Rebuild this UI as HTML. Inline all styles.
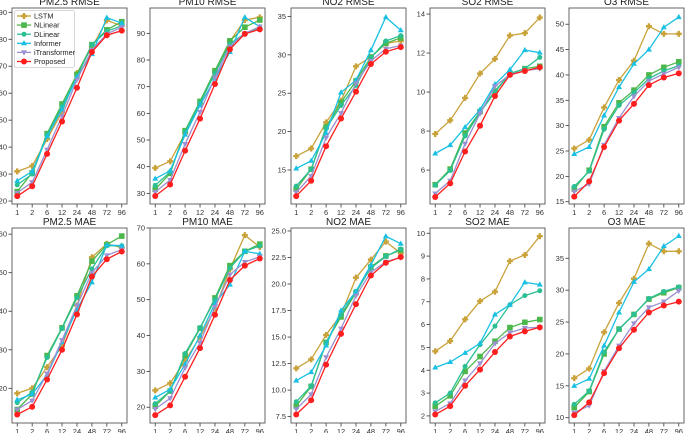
<!DOCTYPE html>
<html><head><meta charset="utf-8">
<style>
html,body{margin:0;padding:0;background:#fff;}
svg{display:block;font-family:"Liberation Sans","DejaVu Sans",sans-serif;}
</style></head>
<body>
<svg id="fig" width="685" height="433" viewBox="0 0 685 433" xmlns="http://www.w3.org/2000/svg"></svg>
<script>
const horizons = ["1","2","6","12","24","48","72","96"];
const seriesNames = ["LSTM","NLinear","DLinear","Informer","iTransformer","Proposed"];

const pm25Rmse = [
 [31,33,43,53,67.5,77,87,85],
 [23.5,30.5,45,56,67,78,83.5,86.5],
 [26,30,44.5,55,66,78,83,85],
 [27.5,31,44,54,66,74.5,88,86],
 [23,27,39,51.5,65,76,82,84.5],
 [21.8,25.5,37.5,49.5,62,75.3,81.5,83.2]];
const pm10Rmse = [
 [39.5,42,52.5,63.5,75.5,87,95,96],
 [31.5,37.5,53.5,64.5,76,87.2,92.3,95],
 [33,38,53,64,75,86,90,92],
 [35.5,38.5,52,63,73,83,96,92.5],
 [30.5,35,48.5,60.5,73.5,85,90,92.5],
 [29,33.3,46,58,71,84,89.8,91.5]];
const no2Rmse = [
 [16.8,17.8,21.2,24,28.5,29.7,31.5,31.8],
 [12.5,15.1,20.6,23.8,26.6,29.7,31.5,32.2],
 [12.9,15.1,20.4,23.4,26,29.6,31.8,32.5],
 [15.2,16.2,19.8,25.1,26.7,30.6,34.9,33.2],
 [12.1,14.2,19.2,22.4,26.3,29.2,30.8,31.2],
 [11.6,13.6,18.1,21.7,25.2,28.8,30.4,31.0]];
const so2Rmse = [
 [7.85,8.55,9.7,10.95,11.7,12.9,13.02,13.82],
 [5.25,6.05,7.9,9.0,10.05,10.95,11.2,11.32],
 [5.22,5.98,7.75,8.95,10.0,10.95,11.2,11.78],
 [6.85,7.28,8.2,9.1,10.4,11.15,12.15,12.02],
 [4.8,5.45,7.35,8.9,10.3,10.9,11.1,11.2],
 [4.62,5.32,6.95,8.27,9.8,10.88,11.08,11.27]];
const o3Rmse = [
 [25.5,27.2,33.6,39,42.8,49.6,48.1,48.1],
 [17.5,21.2,29.8,34.5,37,40,41.5,42.6],
 [18,21,29.3,34,36.5,39.3,40.8,41.8],
 [24.4,25.8,32,37.6,42.2,45,49.4,51.4],
 [17,18.5,26.2,31.5,35.8,38.8,40.2,41.5],
 [16,19,25.8,31,34.3,38,39.5,40.3]];
const pm25Mae = [
 [18.7,20,25.5,31,41.5,54,57.5,56.5],
 [14.5,18.5,28.5,35.7,44,53,57.3,59.5],
 [16.3,19,28,35.5,43.5,51,57,57],
 [17,18.5,23.5,32,40.5,47.5,57.2,57],
 [14.5,16.8,23.8,32.5,41.5,50,54.5,56],
 [13.2,15.2,22.3,30,39.2,49,53.5,55.5]];
const pm10Mae = [
 [24.7,26.7,33,39.5,47.5,58.5,68,64.7],
 [20.3,24.5,34.5,42,50.5,59.5,63.5,65.5],
 [21,24.5,35,42.2,50,58.8,63.5,65],
 [22.7,25,32,40,49,54.2,63.5,62.8],
 [19.5,22.5,31,38,48,57,60.5,62],
 [17.8,20.5,28.5,36.5,45.8,55.5,59.5,61.5]];
const no2Mae = [
 [12.05,12.9,15.2,17.1,20.6,22.3,24.0,22.9],
 [8.5,10.35,14.5,16.9,19.2,21.6,22.65,23.2],
 [8.9,10.4,14.5,17.1,19.3,21.5,22.6,23.3],
 [10.9,11.7,14.2,17.5,19.3,21.8,24.5,23.8],
 [8.2,9.6,13.1,15.8,18.9,21.1,22.1,22.5],
 [7.7,9.05,12.4,15.3,18.1,20.8,22.0,22.55]];
const so2Mae = [
 [4.83,5.28,6.23,7.03,7.44,8.78,9.05,9.87],
 [2.42,2.88,3.95,4.6,5.27,5.87,6.1,6.22],
 [2.57,3.0,4.17,5.12,5.93,6.87,7.27,7.48],
 [4.12,4.36,4.76,5.18,6.44,6.87,7.85,7.75],
 [2.2,2.55,3.55,4.3,5.17,5.65,5.85,5.88],
 [2.06,2.43,3.32,4.03,4.8,5.48,5.7,5.88]];
const o3Mae = [
 [16.2,17.7,23.4,28,31.8,37.3,36.1,36.1],
 [11.6,14.1,20,23.9,26.2,28.6,29.6,30.4],
 [12.1,14.2,20.3,23.9,26.2,28.7,29.8,30.5],
 [15,16.1,21.3,26.5,31.3,33.3,36.9,38.5],
 [10.8,11.9,17.3,21.3,24.8,27.3,28.2,29.9],
 [10.4,12.4,17,20.9,23.8,26.5,27.6,28.2]];

const pm25RmseTicks=[20,30,40,50,60,70,80,90];
const pm10RmseTicks=[30,40,50,60,70,80,90];
const no2RmseTicks=[15,20,25,30,35];
const so2RmseTicks=[6,8,10,12,14];
const o3RmseTicks=[15,20,25,30,35,40,45,50];
const pm25MaeTicks=[20,30,40,50,60];
const pm10MaeTicks=[20,30,40,50,60,70];
const no2MaeTicks=["7.5","10.0","12.5","15.0","17.5","20.0","22.5","25.0"];
const so2MaeTicks=[2,3,4,5,6,7,8,9,10];
const o3MaeTicks=[10,15,20,25,30,35];

const colors=["#c9a23a","#4cb84c","#2bbf94","#19c0e3","#9b90d2","#ff1e1e"];
const NS="http://www.w3.org/2000/svg";
const svg=document.getElementById('fig');
function mk(tag,attrs,parent){const e=document.createElementNS(NS,tag);for(const k in attrs)e.setAttribute(k,attrs[k]);(parent||svg).appendChild(e);return e;}

const panels=[
 {title:"PM2.5 RMSE",data:pm25Rmse,ticks:pm25RmseTicks,lo:18.9,hi:91.6,x:12,row:0,key:"pm25-rmse"},
 {title:"PM10 RMSE",data:pm10Rmse,ticks:pm10RmseTicks,lo:26.0,hi:99.5,x:150,row:0,key:"pm10-rmse"},
 {title:"NO2 RMSE",data:no2Rmse,ticks:no2RmseTicks,lo:10.57,hi:36.1,x:291,row:0,key:"no2-rmse"},
 {title:"SO2 RMSE",data:so2Rmse,ticks:so2RmseTicks,lo:4.26,hi:14.31,x:430,row:0,key:"so2-rmse"},
 {title:"O3 RMSE",data:o3Rmse,ticks:o3RmseTicks,lo:14.55,hi:53.2,x:569,row:0,key:"o3-rmse"},
 {title:"PM2.5 MAE",data:pm25Mae,ticks:pm25MaeTicks,lo:11.0,hi:61.6,x:12,row:1,key:"pm25-mae"},
 {title:"PM10 MAE",data:pm10Mae,ticks:pm10MaeTicks,lo:15.6,hi:70.0,x:150,row:1,key:"pm10-mae"},
 {title:"NO2 MAE",data:no2Mae,ticks:no2MaeTicks,lo:6.9,hi:25.28,x:291,row:1,key:"no2-mae"},
 {title:"SO2 MAE",data:so2Mae,ticks:so2MaeTicks,lo:1.69,hi:10.23,x:430,row:1,key:"so2-mae"},
 {title:"O3 MAE",data:o3Mae,ticks:o3MaeTicks,lo:9.17,hi:39.75,x:569,row:1,key:"o3-mae"}];

function marker(g,i,cx,cy){
  const c=colors[i];let e;
  if(i===0){e=mk('path',{d:`M${cx-1.2} ${cy-3}h2.4v1.8h1.8v2.4h-1.8v1.8h-2.4v-1.8h-1.8v-2.4h1.8z`,fill:c},g);}
  else if(i===1){e=mk('rect',{x:cx-2.8,y:cy-2.8,width:5.6,height:5.6,fill:c},g);}
  else if(i===2){e=mk('circle',{cx:cx,cy:cy,r:2.5,fill:c},g);}
  else if(i===3){e=mk('path',{d:`M${cx} ${cy-3.2}L${cx+3} ${cy+2}L${cx-3} ${cy+2}Z`,fill:c},g);}
  else if(i===4){e=mk('path',{d:`M${cx} ${cy+3.2}L${cx+3} ${cy-2}L${cx-3} ${cy-2}Z`,fill:c},g);}
  else {e=mk('circle',{cx:cx,cy:cy,r:3,fill:c},g);}
  return e;
}

panels.forEach(p=>{
  const W=115, top=p.row===0?8:228, bot=p.row===0?204:423;
  const g=mk('g',{});
  
  
  const xs=i=>p.x+W*0.0455+i*(W/1.1)/(horizons.length-1);
  const ys=v=>bot-(v-p.lo)/(p.hi-p.lo)*(bot-top);
  const t=mk('text',{x:p.x+W/2,y:top-3,'text-anchor':'middle','font-size':'10',fill:'#222'},g);
  t.textContent=p.title;
  
  
  p.ticks.forEach(tv=>{
    const y=ys(parseFloat(tv));
    mk('line',{x1:p.x-3.5,x2:p.x,y1:y,y2:y,stroke:'#333','stroke-width':0.8},g);
    const l=mk('text',{x:p.x-5,y:y+2.5,'text-anchor':'end','font-size':'7.5',fill:'#333'},g);
    l.textContent=tv;
    
    
  });
  horizons.forEach((h,i)=>{
    const x=xs(i);
    mk('line',{x1:x,x2:x,y1:bot,y2:bot+3.5,stroke:'#333','stroke-width':0.8},g);
    const l=mk('text',{x:x,y:bot+11,'text-anchor':'middle','font-size':'7.5',fill:'#333'},g);
    l.textContent=h;
    
    
  });
  p.data.forEach((arr,si)=>{
    const sg=mk('g',{},g);
    
    
    const pts=arr.map((v,i)=>xs(i).toFixed(1)+','+ys(v).toFixed(1)).join(' ');
    mk('polyline',{points:pts,fill:'none',stroke:colors[si],'stroke-width':1.3},sg);
    arr.forEach((v,i)=>{
      const m=marker(sg,si,xs(i),ys(v));
      
      
    });
  });
  const fr=mk('rect',{x:p.x,y:top,width:W,height:bot-top,fill:'none',stroke:'#555','stroke-width':0.9},g);
  
  

  if(p.key==="pm25-rmse"){
    const lg=mk('g',{},g);
    
    
    mk('rect',{x:14.5,y:10.5,width:60,height:57,rx:2,fill:'#fff','fill-opacity':0.85,stroke:'#ccc','stroke-width':0.8},lg);
    seriesNames.forEach((n,si)=>{
      const y=16+si*9.1;
      const eg=mk('g',{},lg);
      
      
      mk('line',{x1:17,x2:31,y1:y,y2:y,stroke:colors[si],'stroke-width':1.3},eg);
      marker(eg,si,24,y);
      const tx=mk('text',{x:34,y:y+2.6,'font-size':'7.3',fill:'#222'},eg);
      tx.textContent=n;
    });
  }
});
</script>
</body></html>
